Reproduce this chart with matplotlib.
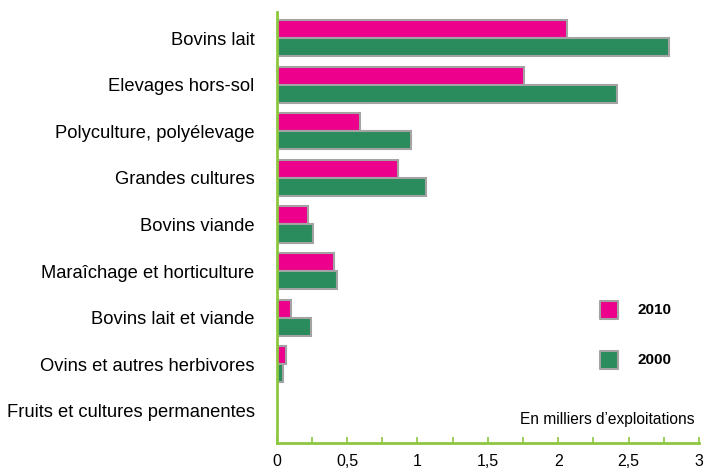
import matplotlib
matplotlib.use("Agg")
import matplotlib.pyplot as plt
from matplotlib.ticker import MultipleLocator, FuncFormatter

plt.rcParams['font.family'] = ['Liberation Sans', 'DejaVu Sans']

categories = ['Bovins lait', 'Elevages hors-sol', 'Polyculture, polyélevage',
              'Grandes cultures', 'Bovins viande', 'Maraîchage et horticulture',
              'Bovins lait et viande', 'Ovins et autres herbivores',
              'Fruits et cultures permanentes']
v2010 = [2.06, 1.76, 0.59, 0.86, 0.22, 0.41, 0.10, 0.065, 0.005]
v2000 = [2.79, 2.42, 0.955, 1.06, 0.26, 0.43, 0.24, 0.045, 0.005]

pink = '#EC008C'
green = '#2A8C5C'
edge = '#A3A3A3'
axis_green = '#8DC63F'

fig = plt.figure(figsize=(7.06, 4.70), dpi=100)
ax = fig.add_axes([0.392, 0.0574, 0.598, 0.917])

pos = list(range(len(categories)))
h = 0.39
ax.barh([p - h / 2 for p in pos], v2010, height=h, color=pink, edgecolor=edge, linewidth=1.5)
ax.barh([p + h / 2 for p in pos], v2000, height=h, color=green, edgecolor=edge, linewidth=1.5)

ax.set_ylim(len(categories) - 1 + 0.69, -0.56)
ax.set_xlim(0, 3)
ax.set_yticks(pos)
ax.set_yticklabels(categories, fontsize=13.2)
ax.tick_params(axis='y', length=0, pad=16)

ax.xaxis.set_major_locator(MultipleLocator(0.5))
ax.xaxis.set_minor_locator(MultipleLocator(0.25))
ax.xaxis.set_major_formatter(FuncFormatter(lambda v, _: f'{v:g}'.replace('.', ',')))
ax.tick_params(axis='x', which='both', direction='in', length=4, width=1.2,
               color=axis_green, labelsize=11.5, pad=8)

for s in ['top', 'right']:
    ax.spines[s].set_visible(False)
for s in ['left', 'bottom']:
    ax.spines[s].set_color(axis_green)
    ax.spines[s].set_linewidth(2)

# légende
ax.scatter([2.36], [5.83], marker='s', s=160, color=pink, edgecolors=edge, linewidths=1.5, zorder=3)
ax.scatter([2.36], [6.9], marker='s', s=160, color=green, edgecolors=edge, linewidths=1.5, zorder=3)
ax.text(2.56, 5.83, '2010', fontsize=11, fontweight='bold', va='center')
ax.text(2.56, 6.9, '2000', fontsize=11, fontweight='bold', va='center')
ax.text(2.97, 8.19, 'En milliers d\u2019exploitations', fontsize=11.2, ha='right', va='center')

fig.savefig('out.png', dpi=100)
